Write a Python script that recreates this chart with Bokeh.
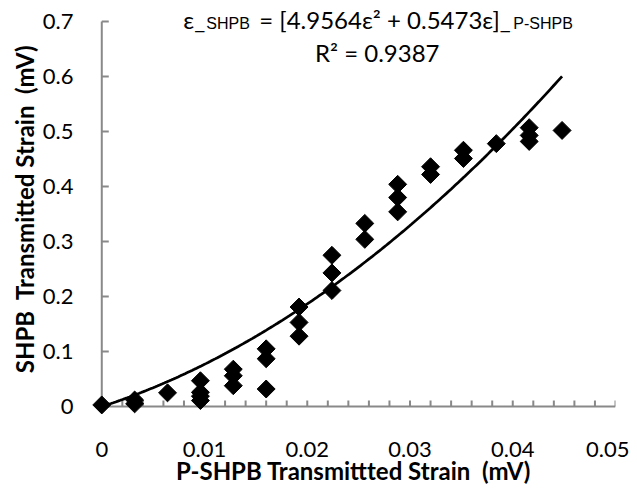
import numpy as np
from bokeh.plotting import figure
from bokeh.models import Range1d, FixedTicker, Label
from bokeh.embed import file_html
from bokeh.resources import INLINE

# ---- data ----
x_vals = [0.0, 0.0032, 0.0032, 0.0064,
          0.0096, 0.0096, 0.0096, 0.0096,
          0.0128, 0.0128, 0.0128,
          0.016, 0.016, 0.016,
          0.0192, 0.0192, 0.0192,
          0.0224, 0.0224, 0.0224,
          0.0256, 0.0256,
          0.0288, 0.0288, 0.0288,
          0.032, 0.032,
          0.0352, 0.0352,
          0.0384,
          0.0416, 0.0416, 0.0416,
          0.0448]
y_vals = [0.003, 0.012, 0.005, 0.025,
          0.047, 0.026, 0.019, 0.011,
          0.068, 0.056, 0.038,
          0.105, 0.087, 0.032,
          0.181, 0.153, 0.128,
          0.275, 0.243, 0.211,
          0.333, 0.304,
          0.404, 0.380, 0.354,
          0.436, 0.422,
          0.466, 0.451,
          0.478,
          0.507, 0.493, 0.482,
          0.502]

x_ticks = [0, 0.01, 0.02, 0.03, 0.04, 0.05]
x_tick_labels = ["0", "0.01", "0.02", "0.03", "0.04", "0.05"]
x_minor_ticks = [0.002, 0.004, 0.006, 0.008, 0.012, 0.014, 0.016, 0.018,
                 0.022, 0.024, 0.026, 0.028, 0.032, 0.034, 0.036, 0.038,
                 0.042, 0.044, 0.046, 0.048]
y_ticks = [0, 0.1, 0.2, 0.3, 0.4, 0.5, 0.6, 0.7]
y_tick_labels = ["0", "0.1", "0.2", "0.3", "0.4", "0.5", "0.6", "0.7"]

x_title = "P-SHPB Transmittted Strain\u00a0 (mV)"
y_title = "SHPB\u00a0 Transmitted Strain\u00a0 (mV)"
eq_lead = "\u03b5_"
eq_sub1 = "SHPB"
eq_main = "= [4.9564\u03b5\u00b2 + 0.5473\u03b5]_"
eq_sub2 = "P-SHPB"
r2_text = "R\u00b2 = 0.9387"

# ---- layout (page pixels: x=0 at 101.5, x=0.05 at 615; y=0 at 406, y=0.7 at 21) ----
PXX = 10275.0   # px per x unit
PXY = 550.0     # px per y unit
x0, x1 = -0.001, 0.05
y0, y1 = -0.018, 0.7 + 20.0 / PXY   # frame extends above 0.7 so the equation is not clipped
FW = int(round((x1 - x0) * PXX))
FH = int(round((y1 - y0) * PXY))
BL, BT, BR, BB = 91, 1, 14, 60

FONT = "Lato"
AXIS_GRAY = "#898989"

p = figure(frame_width=FW, frame_height=FH, output_backend="svg", toolbar_location=None,
           x_range=Range1d(x0, x1), y_range=Range1d(y0, y1),
           min_border_left=BL, min_border_right=BR,
           min_border_top=BT, min_border_bottom=BB)
p.outline_line_color = None
p.grid.visible = False
p.background_fill_color = "white"
p.border_fill_color = "white"

for ax in (p.xaxis[0], p.yaxis[0]):
    ax.axis_line_color = None
    ax.major_tick_line_color = None
    ax.minor_tick_line_color = None
    ax.major_tick_in = 0
    ax.major_tick_out = 0
    ax.minor_tick_in = 0
    ax.minor_tick_out = 0
    ax.major_label_text_font = FONT
    ax.major_label_text_font_size = "22px"
    ax.major_label_text_color = "black"
    ax.axis_label_text_font = FONT
    ax.axis_label_text_font_size = "24px"
    ax.axis_label_text_font_style = "bold"
    ax.axis_label_text_color = "black"

p.xaxis.ticker = FixedTicker(ticks=x_ticks)
p.xaxis.major_label_overrides = {t: s for t, s in zip(x_ticks, x_tick_labels)}
p.xaxis.major_label_standoff = 25
p.xaxis.axis_label = x_title
p.xaxis.axis_label_standoff = -4

p.yaxis.ticker = FixedTicker(ticks=y_ticks)
p.yaxis.major_label_overrides = {t: s for t, s in zip(y_ticks, y_tick_labels)}
p.yaxis.major_label_standoff = 18
p.yaxis.axis_label = y_title
p.yaxis.axis_label_standoff = 1

# axis lines drawn at x=0 / y=0
p.segment(x0=[0, 0], y0=[0, 0], x1=[0, x_ticks[-1]], y1=[y_ticks[-1], 0],
          line_color=AXIS_GRAY, line_width=2)
# y ticks (pointing inside)
ytl = 7 / PXX
p.segment(x0=[0] * len(y_ticks), y0=y_ticks, x1=[ytl] * len(y_ticks), y1=y_ticks,
          line_color=AXIS_GRAY, line_width=2)
# x ticks every 0.002 (pointing inside)
xt_all = sorted(x_ticks[1:] + x_minor_ticks)
xtl = 6 / PXY
p.segment(x0=xt_all, y0=[0] * len(xt_all), x1=xt_all, y1=[xtl] * len(xt_all),
          line_color=AXIS_GRAY, line_width=2)

# polynomial trendline (2nd order, through origin) fitted to the data
xa = np.array(x_vals)
ya = np.array(y_vals)
A = np.vstack([xa ** 2, xa]).T
coef, *_ = np.linalg.lstsq(A, ya, rcond=None)
xc = np.linspace(0, xa.max(), 200)
yc = coef[0] * xc ** 2 + coef[1] * xc

p.scatter(x_vals, y_vals, marker="square", size=12.7, angle=np.pi / 4,
          fill_color="black", line_color="black")
p.line(xc, yc, line_color="black", line_width=2.75)

# equation text (positions given in page pixels, converted to data units)
def xd(px):
    return (px - 101.5) / PXX

def yd(py):
    return (406 - py) / PXY

y_l1 = yd(19)
y_l1s = yd(23)
y_l2 = yd(52)

p.add_layout(Label(x=xd(205), y=y_l1, text=eq_lead, text_align="right",
                   text_baseline="alphabetic", text_font=FONT, text_font_size="24px",
                   text_color="black"))
p.add_layout(Label(x=xd(206), y=y_l1s, text=eq_sub1, text_align="left",
                   text_baseline="alphabetic", text_font="Liberation Sans",
                   text_font_size="16px", text_color="black"))
p.add_layout(Label(x=xd(259), y=y_l1, text=eq_main, text_align="left",
                   text_baseline="alphabetic", text_font=FONT, text_font_size="24px",
                   text_color="black"))
p.add_layout(Label(x=xd(513), y=y_l1s, text=eq_sub2, text_align="left",
                   text_baseline="alphabetic", text_font="Liberation Sans",
                   text_font_size="16px", text_color="black"))
p.add_layout(Label(x=xd(377), y=y_l2, text=r2_text, text_align="center",
                   text_baseline="alphabetic", text_font=FONT, text_font_size="24px",
                   text_color="black"))

open("out.html", "w").write(file_html(p, INLINE))
